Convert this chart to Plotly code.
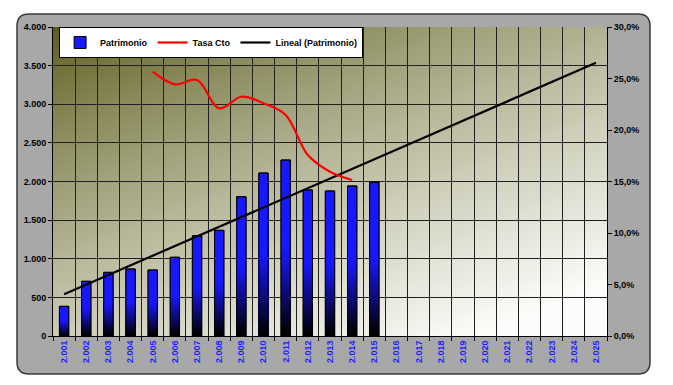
import base64
import struct
import zlib

import numpy as np
import plotly.graph_objects as go

# ---------------- data ----------------
categories = ['2.001', '2.002', '2.003', '2.004', '2.005', '2.006', '2.007', '2.008',
              '2.009', '2.010', '2.011', '2.012', '2.013', '2.014', '2.015', '2.016',
              '2.017', '2.018', '2.019', '2.020', '2.021', '2.022', '2.023', '2.024',
              '2.025']
patrimonio_years = categories[:15]
patrimonio = [384, 708, 824, 867, 854, 1019, 1298, 1368, 1803, 2110, 2278, 1890, 1877,
              1942, 1990]
tasa_years = ['2.005', '2.006', '2.007', '2.008', '2.009', '2.010', '2.011', '2.012',
              '2.013', '2.014']
tasa_cto = [0.2566, 0.2443, 0.2485, 0.2210, 0.2323, 0.2260, 0.2146, 0.1757, 0.1595,
            0.1515]

# linear trend of Patrimonio (Excel "Lineal") extended over all categories
idx_obs = np.arange(1, len(patrimonio) + 1)
slope, intercept = np.polyfit(idx_obs, patrimonio, 1)
idx_all = np.arange(1, len(categories) + 1)
trend = intercept + slope * idx_all

FONT = 'Liberation Sans, Arial, sans-serif'

# ---------------- plot-area gradient image ----------------
def make_png(arr):
    h, w, _ = arr.shape
    raw = b''.join(b'\x00' + arr[r].astype(np.uint8).tobytes() for r in range(h))

    def chunk(tag, data):
        c = struct.pack('>I', len(data)) + tag + data
        return c + struct.pack('>I', zlib.crc32(tag + data) & 0xffffffff)

    ihdr = struct.pack('>IIBBBBB', w, h, 8, 2, 0, 0, 0)
    return (b'\x89PNG\r\n\x1a\n' + chunk(b'IHDR', ihdr) +
            chunk(b'IDAT', zlib.compress(raw, 9)) + chunk(b'IEND', b''))

GW, GH = 280, 156
u = np.linspace(0, 1, GW)[None, :]
v = np.linspace(0, 1, GH)[:, None]
t = 0.42 * u + 0.58 * v
g = np.clip(t / 0.9, 0, 1) ** 0.8
dark = np.array([90, 90, 24], float)
light = np.array([252, 252, 250], float)
img = dark[None, None, :] + (light - dark)[None, None, :] * g[:, :, None]
img_uri = 'data:image/png;base64,' + base64.b64encode(make_png(np.round(img))).decode()

fig = go.Figure()

# ---------------- bars (vertical blue->black gradient via stacked overlays) ----------------
N = 30
pat = np.array(patrimonio, float)
for k in range(N, 0, -1):
    f = k / N
    hmid = (k - 0.5) / N
    b = np.clip((hmid - 0.02) / 0.48, 0, 1) ** 1.0
    col = 'rgb(%d,%d,%d)' % (round(24 * b), round(24 * b), round(255 * b))
    fig.add_trace(go.Bar(
        x=patrimonio_years, y=pat * f, width=0.42,
        marker=dict(color=col, line=dict(width=1, color='black') if k == N else dict(width=0)),
        name='Patrimonio', showlegend=(k == N),
        hoverinfo='skip' if k != N else None, yaxis='y'))
fig.add_trace(go.Bar(
    x=patrimonio_years, y=patrimonio, width=0.42,
    marker=dict(color='rgba(0,0,0,0)', line=dict(width=1, color='black')),
    showlegend=False, hoverinfo='skip', yaxis='y'))

fig.add_trace(go.Scatter(
    x=tasa_years, y=tasa_cto, mode='lines', name='Tasa Cto', yaxis='y2',
    line=dict(color='#ff0000', width=2.2, shape='spline', smoothing=1.0)))

fig.add_trace(go.Scatter(
    x=categories, y=trend, mode='lines', name='Lineal (Patrimonio)', yaxis='y',
    line=dict(color='black', width=2.2)))

# ---------------- layout ----------------
# page body has an 8px margin, so the figure is drawn from (8, 8) of the window
OFF = 8
W, H = 673 - OFF, 385 - OFF
ML, MR, MT, MB = 53 - OFF, 66, 27 - OFF, 49
pw, ph = W - ML - MR, H - MT - MB


def px_to_paper(xp, yp):
    # xp, yp are window pixel coordinates
    return (xp - OFF - ML) / pw, (H - MB - (yp - OFF)) / ph


x0, y1 = px_to_paper(17, 14)
x1, y0 = px_to_paper(650, 374)
rx, ry = 12 / pw, 12 / ph
box_path = (f'M {x0+rx},{y1} L {x1-rx},{y1} Q {x1},{y1} {x1},{y1-ry} '
            f'L {x1},{y0+ry} Q {x1},{y0} {x1-rx},{y0} L {x0+rx},{y0} '
            f'Q {x0},{y0} {x0},{y0+ry} L {x0},{y1-ry} Q {x0},{y1} {x0+rx},{y1} Z')

grid_col = '#202020'
fig.update_layout(
    width=W, height=H,
    margin=dict(l=ML, r=MR, t=MT, b=MB, pad=0, autoexpand=False),
    paper_bgcolor='white',
    plot_bgcolor='rgba(0,0,0,0)',
    separators=',.',
    barmode='overlay',
    font=dict(family=FONT, size=9, color='black', weight='bold'),
    showlegend=True,
    legend=dict(orientation='h', x=0.011, y=1, xanchor='left', yanchor='top',
                bgcolor='white', bordercolor='black', borderwidth=1,
                font=dict(family=FONT, size=9, color='black', weight='bold'),
                itemwidth=30, tracegroupgap=0, traceorder='normal'),
    xaxis=dict(type='category', categoryorder='array', categoryarray=categories,
               range=[-0.5, len(categories) - 0.5],
               tickson='boundaries', ticks='outside', ticklen=4, tickcolor='black',
               showgrid=True, gridcolor=grid_col, gridwidth=1,
               showline=True, linecolor='black', linewidth=1,
               tickangle=-90, tickfont=dict(family=FONT, size=9, color='#1e1eff',
                                           weight='bold')),
    yaxis=dict(range=[0, 4000], dtick=500, tickformat=',d', ticks='outside', ticklen=4,
               tickcolor='black', showgrid=True, gridcolor=grid_col, gridwidth=1,
               showline=True, linecolor='black', linewidth=1, zeroline=False,
               tickfont=dict(family=FONT, size=9, color='black', weight='bold')),
    yaxis2=dict(overlaying='y', side='right', range=[0, 0.30], dtick=0.05,
                tickformat='.1%', ticks='outside', ticklen=4, tickcolor='black',
                showgrid=False, showline=True, linecolor='black', linewidth=1,
                zeroline=False,
                tickfont=dict(family=FONT, size=9, color='black', weight='bold')),
    shapes=[dict(type='path', xref='paper', yref='paper', path=box_path,
                 fillcolor='#a8a8a8', line=dict(color='#3a3a3a', width=1.5),
                 layer='below')],
    images=[dict(source=img_uri, xref='x domain', yref='y domain', x=0, y=1,
                 sizex=1, sizey=1, xanchor='left', yanchor='top', sizing='stretch',
                 layer='below')],
)

fig.write_html('out.html')
